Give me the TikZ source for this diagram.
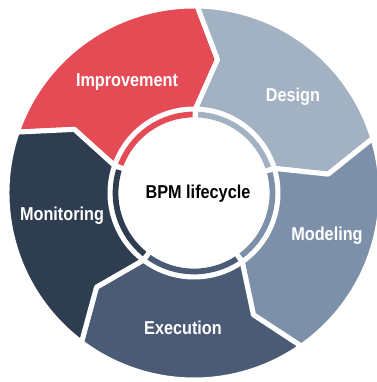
\documentclass[tikz,border=0pt]{standalone}
\usepackage{fontspec}
\setmainfont{Liberation Sans}[FakeStretch=0.87]
\definecolor{imprcol}{HTML}{E54B55}
\definecolor{desigcol}{HTML}{A3B2C3}
\definecolor{modelcol}{HTML}{7D90A9}
\definecolor{execcol}{HTML}{4B5B75}
\definecolor{monitcol}{HTML}{2F3D51}
\tikzset{
	segment/.style={draw=white, line width=3.75pt, line join=round},
	ringarc/.style={line width=4.3pt},
	seglabel/.style={text=white, font=\fontsize{14}{16}\selectfont\bfseries},
}
\begin{document}
\begin{tikzpicture}[x=0.75pt,y=0.75pt]
	\useasboundingbox (-194,-189) rectangle (182,193);
	% outer segments, clockwise
	\path[segment, fill=imprcol]	(161:84) -- (152:135.5) -- (161:187) arc[start angle=161, end angle=89, radius=187] -- (80:135.5) -- (89:84) arc[start angle=89, end angle=161, radius=84] -- cycle;
	\path[segment, fill=desigcol]	(89:84) -- (80:135.5) -- (89:187) arc[start angle=89, end angle=17, radius=187] -- (8:135.5) -- (17:84) arc[start angle=17, end angle=89, radius=84] -- cycle;
	\path[segment, fill=modelcol]	(17:84) -- (8:135.5) -- (17:187) arc[start angle=17, end angle=-55, radius=187] -- (-64:135.5) -- (-55:84) arc[start angle=-55, end angle=17, radius=84] -- cycle;
	\path[segment, fill=execcol]	(-55:84) -- (-64:135.5) -- (-55:187) arc[start angle=-55, end angle=-127, radius=187] -- (-136:135.5) -- (-127:84) arc[start angle=-127, end angle=-55, radius=84] -- cycle;
	\path[segment, fill=monitcol]	(-127:84) -- (-136:135.5) -- (-127:187) arc[start angle=-127, end angle=-199, radius=187] -- (-208:135.5) -- (-199:84) arc[start angle=-199, end angle=-127, radius=84] -- cycle;
	% inner ring
	\draw[ringarc, imprcol]		(159:78.5) arc[start angle=159, end angle=91, radius=78.5];
	\draw[ringarc, desigcol]	(87:78.5) arc[start angle=87, end angle=19, radius=78.5];
	\draw[ringarc, modelcol]	(15:78.5) arc[start angle=15, end angle=-53, radius=78.5];
	\draw[ringarc, execcol]		(-57:78.5) arc[start angle=-57, end angle=-125, radius=78.5];
	\draw[ringarc, monitcol]	(-129:78.5) arc[start angle=-129, end angle=-197, radius=78.5];
	% labels
	\node (improvement)	at (-67,111)	[seglabel]	{Improvement};
	\node (design)		at (99,96)		[seglabel]	{Design};
	\node (modeling)	at (133,-43)	[seglabel]	{Modeling};
	\node (execution)	at (-11,-135)	[seglabel]	{Execution};
	\node (monitoring)	at (-132,-23)	[seglabel]	{Monitoring};
	\node (lifecycle)	at (4,-1)		[font=\fontsize{14}{16}\selectfont\bfseries]	{BPM lifecycle};
\end{tikzpicture}
\end{document}
